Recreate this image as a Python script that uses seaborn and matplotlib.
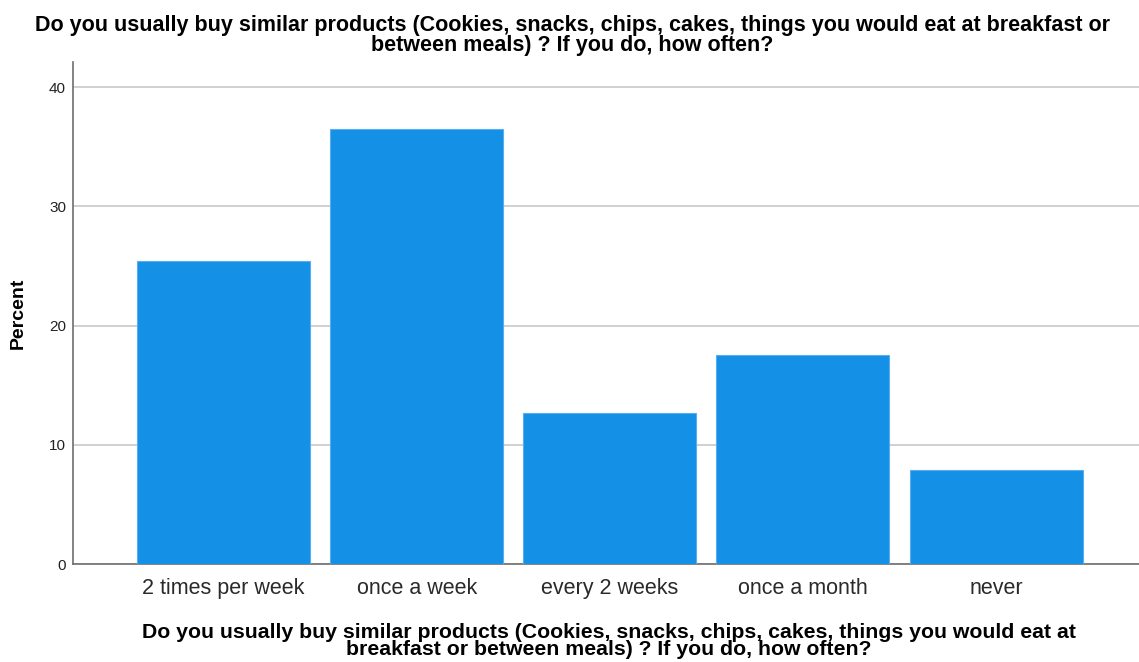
import pandas as pd
import matplotlib
matplotlib.use("Agg")
import matplotlib.pyplot as plt
import seaborn as sns

# data
categories = ['2 times per week', 'once a week', 'every 2 weeks', 'once a month', 'never']
percent = [25.4, 36.5, 12.7, 17.5, 7.9]

question = ("Do you usually buy similar products (Cookies, snacks, chips, cakes, things you would eat at breakfast or\n"
            "between meals) ? If you do, how often?")
xlabel_text = ("Do you usually buy similar products (Cookies, snacks, chips, cakes, things you would eat at\n"
               "breakfast or between meals) ? If you do, how often?")

df = pd.DataFrame({'freq': categories, 'pct': percent})

sns.set_theme(style="white")
plt.rcParams['font.family'] = ['Liberation Sans', 'DejaVu Sans']

fig = plt.figure(figsize=(11.39, 6.62), dpi=100)
ax = fig.add_axes([73 / 1139, 98 / 662, 1 - 73 / 1139, 502 / 662])

sns.barplot(data=df, x='freq', y='pct', order=categories, color='#1490e6',
            saturation=1, width=0.896, edgecolor='#5aaef0', linewidth=0.8, ax=ax, zorder=3)

ax.set_xlim(-0.78, 4.74)
ax.set_ylim(0, 42.1)
ax.set_yticks([0, 10, 20, 30, 40])
ax.yaxis.grid(True, color='#c8c8c8', linewidth=1.2, zorder=0)
ax.set_axisbelow(True)

for s in ['top', 'right']:
    ax.spines[s].set_visible(False)
for s in ['left', 'bottom']:
    ax.spines[s].set_color('#6e6e6e')
    ax.spines[s].set_linewidth(1.2)

ax.tick_params(axis='x', length=0, labelsize=15.5, labelcolor='#2a2a2a', pad=10)
ax.tick_params(axis='y', length=0, labelsize=11, labelcolor='#222222', pad=5)

ax.set_ylabel('Percent', fontsize=14, fontweight='bold', color='black')
ax.yaxis.set_label_coords(-0.043, 0.5)
ax.set_xlabel(xlabel_text, fontsize=15.3, fontweight='bold', color='black', linespacing=0.87)
ax.xaxis.set_label_coords(0.503, -0.118)

fig.suptitle(question, fontsize=15.5, fontweight='bold', color='black',
             x=0.5025, y=0.978, linespacing=0.97)

fig.savefig('out.png', dpi=100)
